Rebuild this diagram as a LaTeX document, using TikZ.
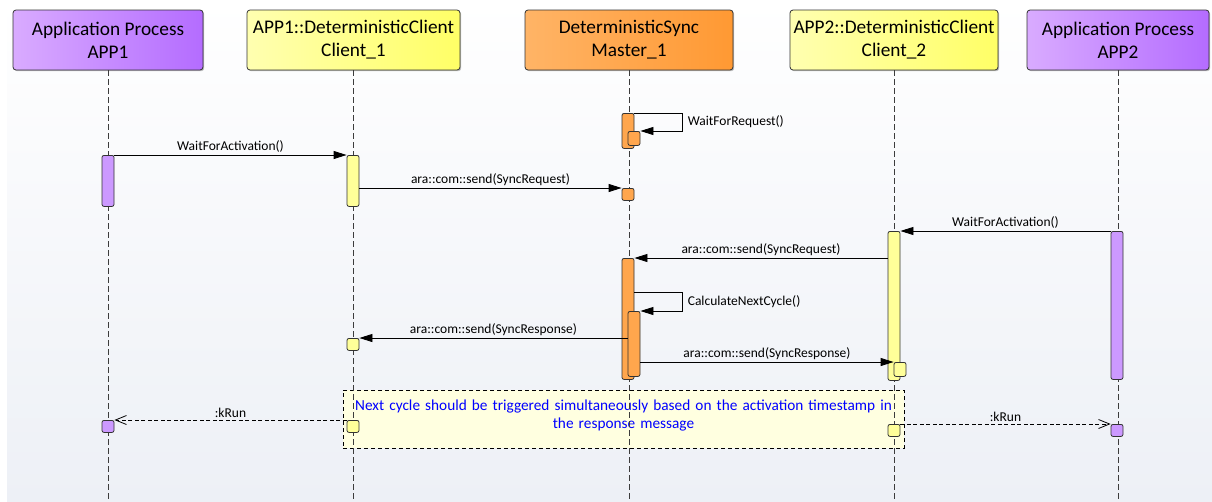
\documentclass[tikz,border=0pt]{standalone}
\usepackage{fontspec}
\setmainfont{Carlito}
\usetikzlibrary{arrows.meta, shadows, calc}

\definecolor{bgbot}{HTML}{EDF0F6}
\definecolor{purpL}{HTML}{D9ABFF}
\definecolor{purpR}{HTML}{B46CFF}
\definecolor{yelL}{HTML}{FFFFB0}
\definecolor{yelR}{HTML}{FFFF66}
\definecolor{orgL}{HTML}{FFB466}
\definecolor{orgR}{HTML}{FF9933}
\definecolor{actpurp}{HTML}{CC99FF}
\definecolor{actyel}{HTML}{FFFF99}
\definecolor{actorg}{HTML}{FFA64D}
\definecolor{notefill}{HTML}{FFFFE0}
\definecolor{lifegray}{HTML}{3C3C3C}

\begin{document}
\begin{tikzpicture}[x=1pt, y=-1pt,
		header/.style={draw=black!80, line width=0.8pt, rounded corners=3pt, minimum height=60pt,
			align=center, font=\fontsize{19.3}{23}\selectfont, inner sep=2pt,
			drop shadow={shadow xshift=1.2pt, shadow yshift=-1.2pt, fill=black, opacity=0.25}},
		lifeline/.style={lifegray, line width=0.9pt, dash pattern=on 6pt off 3pt},
		act/.style={draw=black!80, line width=0.8pt, rounded corners=2pt, minimum width=12pt,
			inner sep=0pt, anchor=north, fill=#1},
		msg/.style={line width=0.8pt, -{Triangle[length=13pt, width=8pt]}},
		reply/.style={line width=0.8pt, dash pattern=on 4pt off 2.5pt, -{Straight Barb[length=11pt, width=9pt]}},
		lbl/.style={font=\fontsize{13.5}{15}\selectfont, inner sep=2pt}
	]
	\useasboundingbox (0,0) rectangle (1212,501);
	\fill[top color=white, bottom color=bgbot] (7,0) rectangle (1212,501);

	\begin{scope}
		\node[header, left color=purpL, right color=purpR, minimum width=190pt] (app1) at (108,40) {Application Process\\APP1};
		\node[header, left color=yelL, right color=yelR, minimum width=213pt] (cli1) at (353.5,40) {APP1::DeterministicClient\\Client\_1};
		\node[header, left color=orgL, right color=orgR, minimum width=208pt] (mast) at (629,40) {DeterministicSync\\Master\_1};
		\node[header, left color=yelL, right color=yelR, minimum width=208pt] (cli2) at (894,40) {APP2::DeterministicClient\\Client\_2};
		\node[header, left color=purpL, right color=purpR, minimum width=182pt] (app2) at (1118,40) {Application Process\\APP2};
	\end{scope}

	\node[draw, line width=0.8pt, dash pattern=on 4pt off 3pt, fill=notefill, minimum width=561pt, minimum height=58pt] (note) at (623.5,419) {};
	\node[anchor=north, text=blue, font=\fontsize{15.3}{17.8}\selectfont, align=center, text width=560pt] (notetext) at ($(note.north)+(0,7)$) {Next cycle should be triggered simultaneously based on the activation timestamp in\\the response message};

	\foreach \n in {app1,cli1,mast,cli2,app2}
	{
		\draw[lifeline] (\n.south) -- (\n.south |- 0,501);
	}

	\begin{scope}
		\node[act=actpurp, minimum height=51pt] (app1act) at (108,155) {};
		\node[act=actyel, minimum height=51pt] (cli1act) at (353,155) {};
		\node[act=actorg, minimum height=35pt] (mastact) at (628,113) {};
		\node[act=actorg, minimum height=14pt] (mastsub) at (634,131) {};
		\node[act=actorg, minimum height=12pt] (mastrecv) at (628,188) {};
		\node[act=actyel, minimum height=149pt] (cli2act) at (894,231) {};
		\node[act=actpurp, minimum height=148pt] (app2act) at (1117,231) {};
		\node[act=actorg, minimum height=121pt] (mast2act) at (628,258) {};
		\node[act=actorg, minimum height=65pt] (mast2sub) at (634,311) {};
		\node[act=actyel, minimum height=14pt] (cli2sub) at (900,362) {};
		\node[act=actyel, minimum height=12pt] (cli1recv) at (353,338) {};
		\node[act=actyel, minimum height=12pt] (cli1run) at (353,420) {};
		\node[act=actpurp, minimum height=12pt] (app1run) at (108,420) {};
		\node[act=actyel, minimum height=12pt] (cli2run) at (894,424) {};
		\node[act=actpurp, minimum height=12pt] (app2run) at (1117,424) {};
	\end{scope}

	\begin{scope}
		\draw[msg] (app1act.north east) -- (cli1act.north west) node[lbl, midway, above] {WaitForActivation()};
		\draw[msg] (cli1act.east |- mastrecv.north) -- (mastrecv.north west) node[lbl, midway, above] {ara::com::send(SyncRequest)};
		\draw[msg] (mastact.north east) -- ++(48,0) |- node[lbl, pos=0.25, right, xshift=3pt] {WaitForRequest()} (mastsub.north east);
		\draw[msg] (app2act.north west) -- (cli2act.north east) node[lbl, midway, above] {WaitForActivation()};
		\draw[msg] (cli2act.west |- mast2act.north) -- (mast2act.north east) node[lbl, midway, above] {ara::com::send(SyncRequest)};
		\draw[msg] ($(mast2act.north east)+(0,34)$) -- ++(48,0) |- node[lbl, pos=0.25, right, xshift=3pt] {CalculateNextCycle()} (mast2sub.north east);
		\draw[msg] (mast2sub.west |- cli1recv.north) -- (cli1recv.north east) node[lbl, midway, above] {ara::com::send(SyncResponse)};
		\draw[msg] (mast2sub.east |- cli2sub.north) -- (cli2sub.north west) node[lbl, midway, above] {ara::com::send(SyncResponse)};
		\draw[reply] (cli1run.north west) -- (app1run.north east) node[lbl, midway, above] {:kRun};
		\draw[reply] (cli2run.north east) -- (app2run.north west) node[lbl, midway, above] {:kRun};
	\end{scope}
\end{tikzpicture}
\end{document}
